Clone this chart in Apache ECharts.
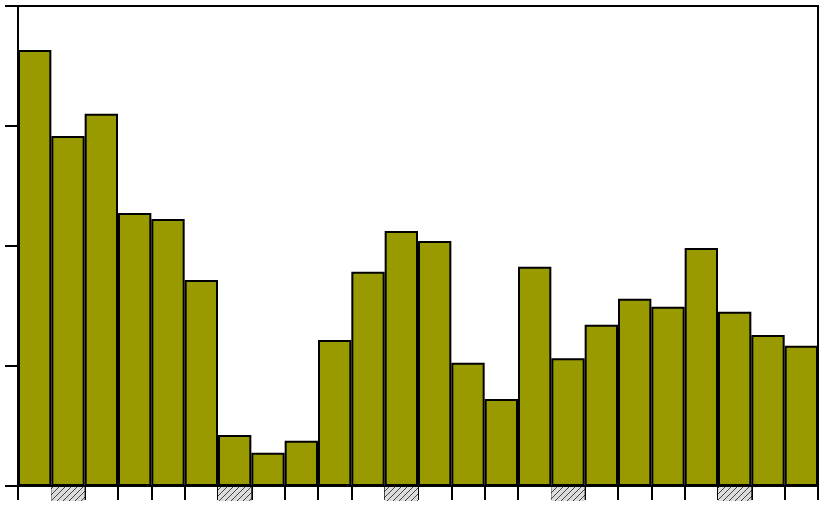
<!DOCTYPE html>
<html>
<head>
<meta charset="utf-8">
<script src="https://cdn.jsdelivr.net/npm/echarts@6/dist/echarts.min.js"></script>
<style>html,body{margin:0;padding:0;background:#fff}#c{width:824px;height:508px}</style>
</head>
<body>
<div id="c"></div>
<script>
var categories = ['1','2','3','4','5','6','7','8','9','10','11','12','13','14','15','16','17','18','19','20','21','22','23','24'];
var values = [363.3, 291.7, 310.3, 227.5, 222.5, 171.7, 42.5, 27.8, 37.8, 121.7, 178.6, 212.5, 204.2, 102.8, 72.5, 182.8, 106.4, 134.4, 156.1, 149.4, 198.3, 145.3, 125.8, 116.9];
var hatchedIdx = [1, 6, 11, 16, 21];
var yTicks = [0, 100, 200, 300, 400];

var pc = document.createElement('canvas');
pc.width = 6; pc.height = 6;
var g = pc.getContext('2d');
g.fillStyle = '#dcdcdc'; g.fillRect(0,0,6,6);
g.strokeStyle = '#444'; g.lineWidth = 1;
g.beginPath(); g.moveTo(-1,7); g.lineTo(7,-1); g.stroke();
g.beginPath(); g.moveTo(-4,4); g.lineTo(4,-4); g.stroke();
g.beginPath(); g.moveTo(2,10); g.lineTo(10,2); g.stroke();

var chart = echarts.init(document.getElementById('c'), null, {renderer:'canvas'});
chart.setOption({
  animation: false,
  grid: {left: 18, right: 6, top: 6, bottom: 22, show: true, borderColor: '#000', borderWidth: 2},
  xAxis: {
    type: 'category', data: categories, boundaryGap: true,
    axisLine: {lineStyle: {color: '#000', width: 2}},
    axisTick: {show: true, interval: 0, length: 14, lineStyle: {color: '#000', width: 2}},
    axisLabel: {show: false}, splitLine: {show: false}
  },
  yAxis: {
    type: 'value', min: yTicks[0], max: yTicks[yTicks.length-1], interval: 100,
    axisLine: {show: true, lineStyle: {color: '#000', width: 2}},
    axisTick: {show: true, length: 13, lineStyle: {color: '#000', width: 2}},
    axisLabel: {show: false}, splitLine: {show: false}
  },
  series: [
    {
      type: 'bar', data: values, barCategoryGap: 0, barGap: 0,
      itemStyle: {color: '#999900', borderColor: '#000', borderWidth: 2},
      z: 2
    },
    {
      type: 'custom', clip: false, z: 1,
      data: hatchedIdx.map(function(i){ return [i, 0]; }),
      renderItem: function(params, api) {
        var p = api.coord([api.value(0), 0]);
        var w = api.size([1, 0])[0];
        return {
          type: 'rect',
          shape: {x: p[0] - w/2, y: p[1] + 1, width: w, height: 14},
          style: {fill: {image: pc, repeat: 'repeat'}, stroke: null}
        };
      }
    }
  ]
});
</script>
</body>
</html>
